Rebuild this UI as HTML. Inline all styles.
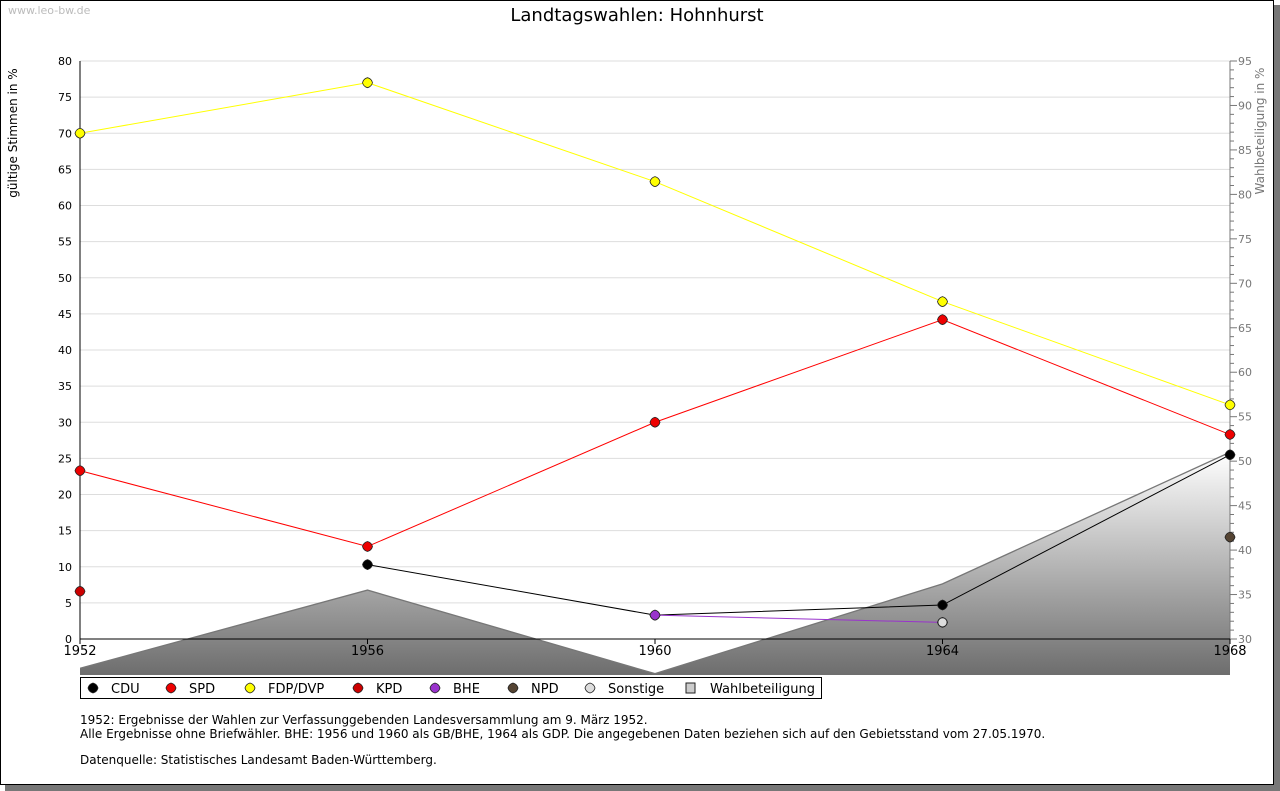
<!DOCTYPE html>
<html><head><meta charset="utf-8"><style>
body{margin:0;background:#fff;font-family:"Liberation Sans","DejaVu Sans",sans-serif}
svg{display:block}
</style></head><body>
<svg id="c" width="1280" height="791" xmlns="http://www.w3.org/2000/svg" font-family="DejaVu Sans, Liberation Sans, sans-serif">
<defs>
<linearGradient id="g" x1="0" y1="0" x2="0" y2="1">
<stop offset="0" stop-color="#ffffff"/><stop offset="1" stop-color="#6a6a6a"/>
</linearGradient>
<clipPath id="clip"><rect x="80" y="0" width="1150" height="675"/></clipPath>
</defs>
<rect x="5" y="5" width="1275" height="786" fill="#777"/>
<rect x="0.5" y="0.5" width="1273" height="784" fill="#fff" stroke="#000"/>
<text x="8" y="14" font-size="11" fill="#bbb">www.leo-bw.de</text>
<text x="637" y="21" font-size="18" text-anchor="middle" fill="#000">Landtagswahlen: Hohnhurst</text>
<g id="grid"></g>
<g id="area" clip-path="url(#clip)"></g>
<g id="axes"></g>
<g id="series"></g>
<text transform="translate(17,133) rotate(-90)" font-size="12" text-anchor="middle">gültige Stimmen in %</text>
<text transform="translate(1264,131) rotate(-90)" font-size="12" text-anchor="middle" fill="#777">Wahlbeteiligung in %</text>
<rect x="80.5" y="677.5" width="741" height="21" fill="#fff" stroke="#000"/>
<g id="legend"></g>
<g font-size="12" fill="#000">
<text x="80" y="724">1952: Ergebnisse der Wahlen zur Verfassunggebenden Landesversammlung am 9. März 1952.</text>
<text x="80" y="738">Alle Ergebnisse ohne Briefwähler. BHE: 1956 und 1960 als GB/BHE, 1964 als GDP. Die angegebenen Daten beziehen sich auf den Gebietsstand vom 27.05.1970.</text>
<text x="80" y="764">Datenquelle: Statistisches Landesamt Baden-Württemberg.</text>
</g>
</svg>
<script>
const years=[1952,1956,1960,1964,1968];
const yTicks=[0,5,10,15,20,25,30,35,40,45,50,55,60,65,70,75,80];
const y2Ticks=[30,35,40,45,50,55,60,65,70,75,80,85,90,95];
const cdu=[null,10.3,3.3,4.7,25.5];
const spd=[23.3,12.8,30.0,44.2,28.3];
const fdp=[70.0,77.0,63.3,46.7,32.4];
const kpd=[6.6,null,null,null,null];
const bhe=[null,null,3.3,2.3,null];
const npd=[null,null,null,null,14.1];
const sonstige=[null,null,null,2.3,null];
const turnout=[26.7,35.5,26.1,36.2,51.0];
const NS="http://www.w3.org/2000/svg";
const X=y=>80+(y-1952)/16*1150;
const Y=v=>639-v/80*578;
const Y2=v=>639-(v-30)/65*578;
function mk(t,a,p){const e=document.createElementNS(NS,t);for(const k in a)e.setAttribute(k,a[k]);document.getElementById(p).appendChild(e);return e;}
yTicks.forEach(v=>{
 if(v>0){const l=mk('line',{x1:80,x2:1230,y1:Y(v),y2:Y(v),stroke:'#ddd'},'grid');
 
 }
 const t=mk('text',{x:72,y:Y(v)+4,'font-size':11,'text-anchor':'end'},'axes');t.textContent=v;
 
 
});
for(let v=30;v<=95;v++){mk('line',{x1:1230,x2:v%5==0?1237:1234,y1:Y2(v),y2:Y2(v),stroke:'#777'},'axes');}
y2Ticks.forEach(v=>{const t=mk('text',{x:1238,y:Y2(v)+4,'font-size':11,fill:'#777'},'axes');t.textContent=v;
 
 });
mk('line',{x1:1230,x2:1230,y1:61,y2:639,stroke:'#777'},'axes');
let pts=turnout.map((v,i)=>X(years[i])+','+Y2(v)).join(' ');
const ar=mk('polygon',{points:'80,680 '+pts+' 1230,680',fill:'url(#g)'},'area');


mk('polyline',{points:pts,fill:'none',stroke:'#777','stroke-width':1.3},'area');
mk('line',{x1:80,x2:80,y1:61,y2:639,stroke:'#000'},'axes');
mk('line',{x1:80,x2:1230,y1:639,y2:639,stroke:'#000'},'axes');
years.forEach(y=>{mk('line',{x1:X(y),x2:X(y),y1:639,y2:644,stroke:'#000'},'axes');
 const t=mk('text',{x:X(y),y:655,'font-size':13,'text-anchor':'middle'},'axes');t.textContent=y;
 
 });
const series=[['CDU',cdu,'#000','#000'],['SPD',spd,'#f00','#e00'],['FDP/DVP',fdp,'#ff0','#ff0'],['KPD',kpd,'#b00','#c00'],['BHE',bhe,'#93c','#93c'],['NPD',npd,'#543','#543'],['Sonstige',sonstige,'#aaa','#ddd']];
function diamond(x,y,fill,parent){return mk('path',{d:`M${x} ${y-5}Q${x+4} ${y-4} ${x+5} ${y}Q${x+4} ${y+4} ${x} ${y+5}Q${x-4} ${y+4} ${x-5} ${y}Q${x-4} ${y-4} ${x} ${y-5}Z`,fill:fill,stroke:'#222','stroke-width':0.8},parent);}
series.forEach(([n,d,lc,fc])=>{
 const p=[];d.forEach((v,i)=>{if(v!=null)p.push([X(years[i]),Y(v)]);});
 if(p.length>1){const l=mk('polyline',{points:p.map(q=>q.join(',')).join(' '),fill:'none',stroke:lc},'series');
 
 }
});
series.forEach(([n,d,lc,fc])=>{d.forEach((v,i)=>{if(v==null)return;
 const m=n=='Sonstige'?mk('circle',{cx:X(years[i]),cy:Y(v),r:4.5,fill:fc,stroke:'#222','stroke-width':0.8},'series'):diamond(X(years[i]),Y(v),fc,'series');
 
 });});
const lx=[93,171,250,358,435,513,590,690];
series.forEach(([n,d,lc,fc],i)=>{
 const m=diamond(lx[i],688,fc,'legend');
 const t=mk('text',{x:lx[i]+18,y:693,'font-size':13},'legend');t.textContent=n;
 
 });
mk('rect',{x:686,y:683,width:9,height:10,fill:'#ccc',stroke:'#222'},'legend');
const t=mk('text',{x:710,y:693,'font-size':13},'legend');t.textContent='Wahlbeteiligung';


</script>
</body></html>
